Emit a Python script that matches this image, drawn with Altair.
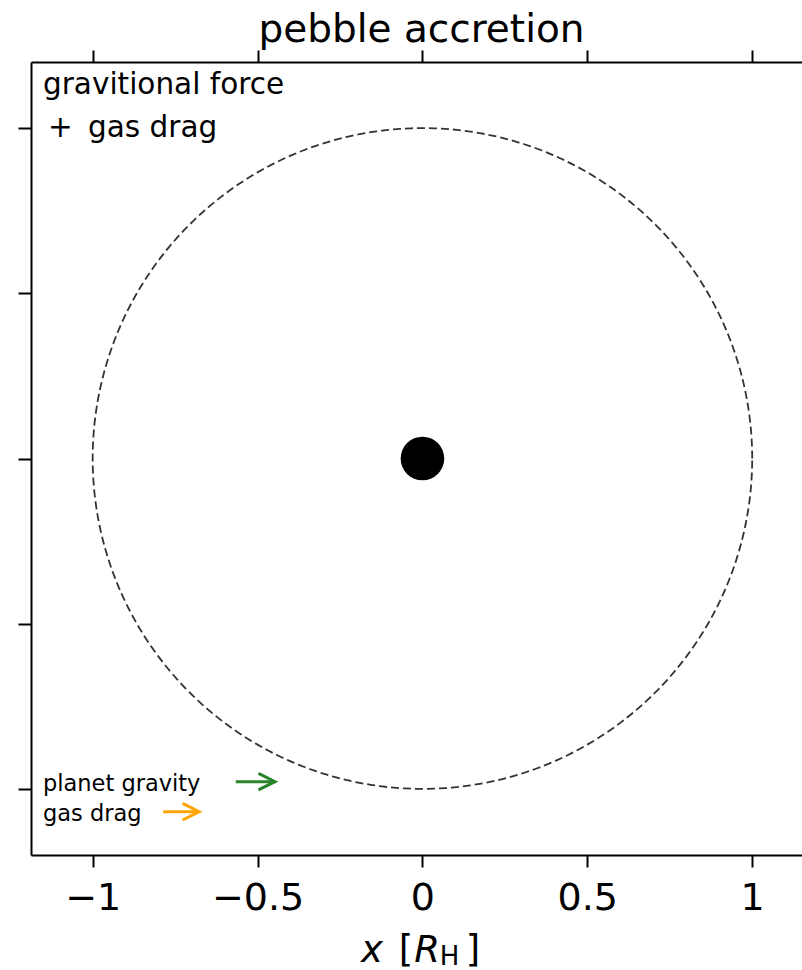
import numpy as np
import pandas as pd
import altair as alt

FONT = "DejaVu Sans"

# Tick positions shared by the bottom, top and left axes (in Hill radii)
tick_values = [-1, -0.5, 0, 0.5, 1]

# Dashed outline of the Hill sphere
hill_radius = 1.0
angles = np.linspace(0.0, 2.0 * np.pi, 361)
ring_df = pd.DataFrame({
    "x": hill_radius * np.cos(angles),
    "y": hill_radius * np.sin(angles),
    "order": np.arange(angles.size),
})

# The planet at the origin
planet_x = [0.0]
planet_y = [0.0]

# Key arrows in the lower-left corner
arrow_labels = ["planet gravity", "gas drag"]
arrow_x0 = [-0.566, -0.786]
arrow_x1 = [-0.447, -0.677]
arrow_y = [-0.978, -1.069]
arrow_colors = ["#2a852a", "#ffa500"]

note_first = "gravitional force"
note_second = "+ \u2009gas drag"
title_text = "pebble accretion"

xs = alt.Scale(domain=[-1.187, 1.151], nice=False, zero=False)
ys = alt.Scale(domain=[-1.2, 1.2], nice=False, zero=False)

axis_common = dict(values=tick_values, domainColor="black", domainWidth=2,
                   tickColor="black", tickWidth=2, grid=False, title=None)
bottom_axis = alt.Axis(orient="bottom", format="~g", labelFontSize=38, labelFont=FONT,
                       labelColor="black", labelPadding=12, labelFlush=False,
                       tickSize=12, **axis_common)
top_axis = alt.Axis(orient="top", labels=False, tickSize=12, **axis_common)
left_axis = alt.Axis(orient="left", labels=False, tickSize=13, **axis_common)

# every layer with a y field carries the same left axis so the layers merge it
Y = lambda field: alt.Y(field, scale=ys, axis=left_axis)

ring = alt.Chart(ring_df).mark_line(
    color="#333333", strokeWidth=1.8, strokeDash=[8, 4]
).encode(
    x=alt.X("x:Q", scale=xs, axis=bottom_axis),
    y=Y("y:Q"),
    order="order:Q",
)

planet = alt.Chart(pd.DataFrame({"x": planet_x, "y": planet_y})).mark_point(
    shape="circle", filled=True, color="black", size=1900, opacity=1
).encode(
    x=alt.X("x:Q", scale=xs, axis=top_axis),
    y=Y("y:Q"),
)

arrows = pd.DataFrame({"label": arrow_labels, "x0": arrow_x0, "x1": arrow_x1,
                       "y": arrow_y, "color": arrow_colors})

shafts = alt.Chart(arrows).mark_rule(strokeWidth=3).encode(
    x=alt.X("x0:Q", scale=xs, axis=None),
    x2="x1:Q",
    y=Y("y:Q"),
    color=alt.Color("color:N", scale=None),
)

heads = alt.Chart(arrows).mark_point(
    shape="M-1,-0.5L0,0L-1,0.5", filled=False, strokeWidth=3, opacity=1, size=1100
).encode(
    x=alt.X("x1:Q", scale=xs, axis=None),
    y=Y("y:Q"),
    color=alt.Color("color:N", scale=None),
)

key_labels = alt.Chart(arrows).mark_text(
    align="left", baseline="middle", fontSize=22.5, font=FONT, color="black", dy=2
).encode(
    x=alt.value(12),
    y=Y("y:Q"),
    text="label:N",
)

one = pd.DataFrame({"k": [0]})


def piece(text, x, y, size=37, style="normal", align="center"):
    return alt.Chart(one).mark_text(
        text=text, align=align, baseline="alphabetic", fontSize=size,
        fontStyle=style, font=FONT, color="black"
    ).encode(x=alt.value(x), y=alt.value(y))


title = piece(title_text, 390.5, -20, size=39)

note = [
    piece(note_first, 12, 32, size=29.5, align="left"),
    piece(note_second, 17, 75, size=29.5, align="left"),
]

# x-axis title: x [R_H]
axis_title = [
    piece("x", 341, 900, style="italic"),
    piece("[", 375, 900),
    piece("R", 396, 900, style="italic"),
    piece("H", 418.5, 903, size=26),
    piece("]", 442, 900),
]

chart = alt.layer(
    ring, planet, shafts, heads, key_labels, *note, title, *axis_title
).properties(
    width=771,
    height=793,
    padding={"left": 31, "top": 62, "right": 0, "bottom": 115},
    autosize=alt.AutoSizeParams(type="none"),
).configure_view(stroke=None).configure(background="white")

chart.save("out.html", embed_options={"renderer": "svg", "actions": False})
